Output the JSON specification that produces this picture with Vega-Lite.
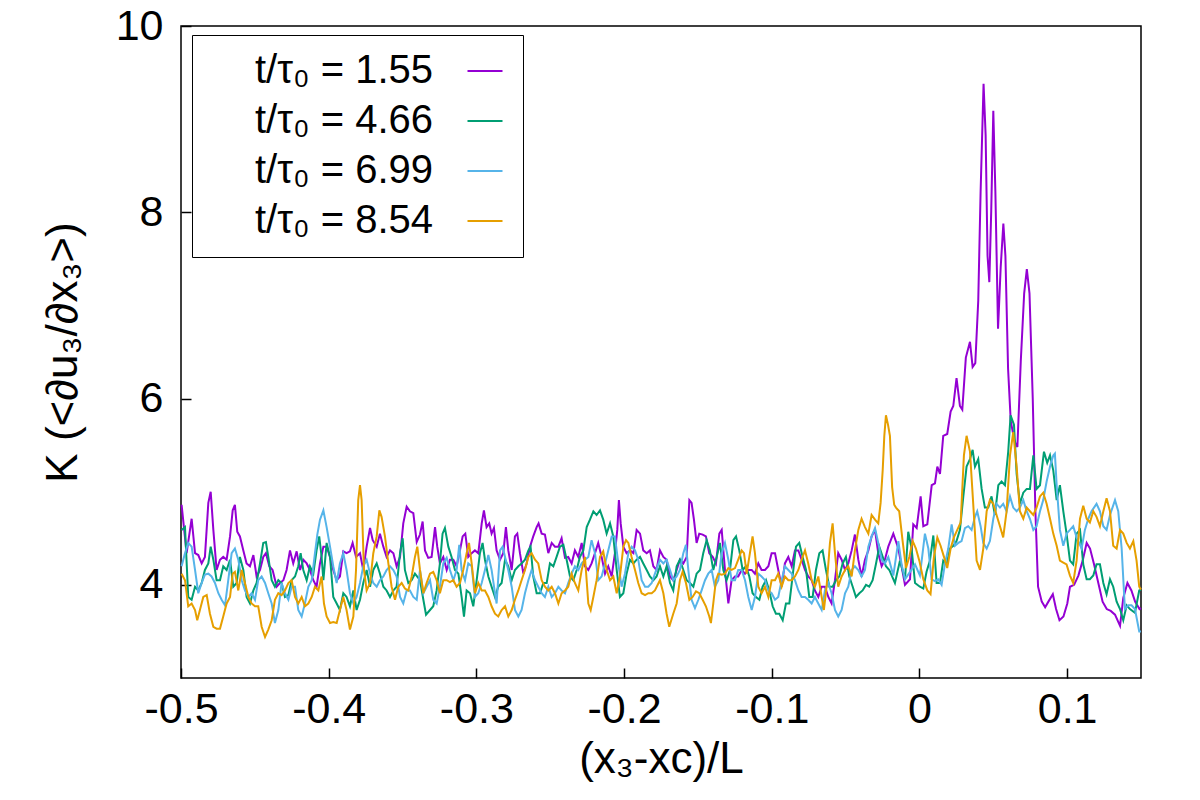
{
"$schema":"https://vega.github.io/schema/vega-lite/v6.json",
"width":960,"height":652,
"autosize":{"type":"none"},
"padding":{"left":181,"top":26,"right":59,"bottom":122},
"background":"white",
"config":{
"view":{"stroke":"black","strokeWidth":1.5},
"font":"Liberation Sans",
"axis":{"domain":false,"grid":false,"labelFont":"Liberation Sans","titleFont":"Liberation Sans","labelColor":"black","titleColor":"black","tickColor":"black","tickWidth":1.5,"labelFontSize":43,"titleFontSize":44,"titleFontWeight":"normal","labelFlush":false}
},
"datasets":{
"a":[
{"x":-0.4996,"y":4.86},{"x":-0.4962,"y":4.34},{"x":-0.4928,"y":4.71},{"x":-0.4905,"y":4.34},{"x":-0.4883,"y":4.32},{"x":-0.486,"y":4.23},{"x":-0.4838,"y":4.3},{"x":-0.4815,"y":4.88},{"x":-0.4799,"y":5.0},{"x":-0.4781,"y":4.59},{"x":-0.4759,"y":4.16},{"x":-0.4736,"y":4.27},{"x":-0.4714,"y":4.3},{"x":-0.4691,"y":4.27},{"x":-0.4668,"y":4.52},{"x":-0.465,"y":4.8},{"x":-0.4635,"y":4.86},{"x":-0.4619,"y":4.57},{"x":-0.4601,"y":4.52},{"x":-0.4578,"y":4.37},{"x":-0.4556,"y":4.23},{"x":-0.4533,"y":4.2},{"x":-0.451,"y":4.32},{"x":-0.4488,"y":4.09},{"x":-0.4465,"y":4.16},{"x":-0.4443,"y":4.3},{"x":-0.4425,"y":4.34},{"x":-0.4402,"y":4.2},{"x":-0.438,"y":4.16},{"x":-0.4352,"y":3.98},{"x":-0.433,"y":4.02},{"x":-0.4307,"y":4.05},{"x":-0.4285,"y":4.16},{"x":-0.4262,"y":4.37},{"x":-0.424,"y":4.23},{"x":-0.4217,"y":4.36},{"x":-0.4194,"y":4.16},{"x":-0.4172,"y":4.27},{"x":-0.4149,"y":4.23},{"x":-0.4127,"y":4.16},{"x":-0.4104,"y":4.05},{"x":-0.4082,"y":3.98},{"x":-0.4059,"y":4.23},{"x":-0.4036,"y":4.41},{"x":-0.4014,"y":4.41},{"x":-0.3991,"y":4.3},{"x":-0.3969,"y":4.16},{"x":-0.3946,"y":4.05},{"x":-0.3924,"y":4.09},{"x":-0.3901,"y":4.36},{"x":-0.3879,"y":4.34},{"x":-0.3856,"y":4.36},{"x":-0.3838,"y":4.45},{"x":-0.3815,"y":4.3},{"x":-0.3788,"y":4.34},{"x":-0.3766,"y":4.16},{"x":-0.3743,"y":4.41},{"x":-0.372,"y":4.61},{"x":-0.3702,"y":4.48},{"x":-0.3675,"y":4.41},{"x":-0.3653,"y":4.55},{"x":-0.363,"y":4.41},{"x":-0.3608,"y":4.3},{"x":-0.3585,"y":4.37},{"x":-0.3562,"y":4.34},{"x":-0.354,"y":4.2},{"x":-0.3517,"y":4.3},{"x":-0.3495,"y":4.66},{"x":-0.3472,"y":4.84},{"x":-0.345,"y":4.79},{"x":-0.3427,"y":4.77},{"x":-0.3404,"y":4.46},
{"x":-0.3382,"y":4.54},{"x":-0.3364,"y":4.68},{"x":-0.3348,"y":4.37},{"x":-0.3326,"y":4.29},{"x":-0.3303,"y":4.3},{"x":-0.328,"y":4.62},{"x":-0.3265,"y":4.41},{"x":-0.3247,"y":4.23},{"x":-0.3224,"y":4.3},{"x":-0.3201,"y":4.16},{"x":-0.3179,"y":4.27},{"x":-0.3156,"y":4.27},{"x":-0.3134,"y":4.2},{"x":-0.3111,"y":4.37},{"x":-0.3093,"y":4.52},{"x":-0.3075,"y":4.55},{"x":-0.3055,"y":4.3},{"x":-0.3032,"y":4.34},{"x":-0.301,"y":4.37},{"x":-0.2987,"y":4.34},{"x":-0.2964,"y":4.66},{"x":-0.2949,"y":4.8},{"x":-0.2931,"y":4.62},{"x":-0.2913,"y":4.66},{"x":-0.2897,"y":4.55},{"x":-0.2881,"y":4.61},{"x":-0.2863,"y":4.37},{"x":-0.284,"y":4.27},{"x":-0.2818,"y":4.34},{"x":-0.28,"y":4.62},{"x":-0.2784,"y":4.37},{"x":-0.2761,"y":4.16},{"x":-0.2739,"y":4.52},{"x":-0.2723,"y":4.55},{"x":-0.2705,"y":4.34},{"x":-0.2682,"y":4.12},{"x":-0.266,"y":4.23},{"x":-0.2637,"y":4.41},{"x":-0.2615,"y":4.52},{"x":-0.2592,"y":4.62},{"x":-0.2579,"y":4.66},{"x":-0.2558,"y":4.55},{"x":-0.2536,"y":4.54},{"x":-0.2513,"y":4.34},{"x":-0.249,"y":4.45},{"x":-0.2468,"y":4.41},{"x":-0.2445,"y":4.41},{"x":-0.2423,"y":4.5},{"x":-0.24,"y":4.29},{"x":-0.2378,"y":4.3},{"x":-0.2355,"y":4.23},{"x":-0.2333,"y":4.37},{"x":-0.231,"y":4.3},{"x":-0.2287,"y":4.45},{"x":-0.2265,"y":4.2},{"x":-0.2242,"y":4.16},{"x":-0.222,"y":4.23},{"x":-0.2197,"y":4.34},{"x":-0.2175,"y":4.45},{"x":-0.2152,"y":4.3},{"x":-0.2129,"y":4.12},{"x":-0.2107,"y":4.2},{"x":-0.2084,"y":4.09},{"x":-0.2062,"y":4.34},{"x":-0.2046,"y":4.59},{"x":-0.2035,"y":4.91},{"x":-0.2023,"y":4.66},{"x":-0.2005,"y":4.41},{"x":-0.1983,"y":4.34},{"x":-0.196,"y":4.37},{"x":-0.1937,"y":4.34},{"x":-0.1915,"y":4.59},{"x":-0.1892,"y":4.55},{"x":-0.187,"y":4.37},{"x":-0.1847,"y":4.34},{"x":-0.1825,"y":4.37},{"x":-0.1802,"y":4.2},{"x":-0.178,"y":4.16},
{"x":-0.1757,"y":4.37},{"x":-0.1734,"y":4.3},{"x":-0.1712,"y":4.27},{"x":-0.1689,"y":4.09},{"x":-0.1667,"y":4.05},{"x":-0.1644,"y":4.16},{"x":-0.1622,"y":4.27},{"x":-0.1599,"y":4.23},{"x":-0.1576,"y":4.3},{"x":-0.1558,"y":4.91},{"x":-0.1543,"y":4.88},{"x":-0.1527,"y":4.7},{"x":-0.1509,"y":4.45},{"x":-0.1491,"y":4.55},{"x":-0.1468,"y":4.54},{"x":-0.1446,"y":4.52},{"x":-0.1423,"y":4.34},{"x":-0.14,"y":4.3},{"x":-0.1378,"y":4.23},{"x":-0.1355,"y":4.55},{"x":-0.1339,"y":4.59},{"x":-0.1317,"y":4.16},{"x":-0.1294,"y":3.8},{"x":-0.1272,"y":4.05},{"x":-0.1249,"y":4.09},{"x":-0.1227,"y":4.09},{"x":-0.1204,"y":4.16},{"x":-0.1181,"y":4.12},{"x":-0.1159,"y":4.16},{"x":-0.1136,"y":4.16},{"x":-0.1114,"y":4.12},{"x":-0.1091,"y":4.23},{"x":-0.1069,"y":4.16},{"x":-0.1046,"y":4.16},{"x":-0.1023,"y":4.2},{"x":-0.1001,"y":4.34},{"x":-0.0978,"y":4.34},{"x":-0.0956,"y":4.16},{"x":-0.0933,"y":3.98},{"x":-0.0911,"y":4.23},{"x":-0.0888,"y":4.3},{"x":-0.0865,"y":4.2},{"x":-0.0843,"y":4.37},{"x":-0.082,"y":4.37},{"x":-0.0798,"y":4.27},{"x":-0.0775,"y":4.16},{"x":-0.0753,"y":4.09},{"x":-0.073,"y":4.05},{"x":-0.0708,"y":3.94},{"x":-0.0685,"y":3.87},{"x":-0.0662,"y":3.98},{"x":-0.064,"y":3.98},{"x":-0.0617,"y":3.87},{"x":-0.0595,"y":3.8},{"x":-0.0572,"y":4.05},{"x":-0.055,"y":4.34},{"x":-0.0527,"y":4.27},{"x":-0.0504,"y":4.16},{"x":-0.0482,"y":4.23},{"x":-0.0459,"y":4.37},{"x":-0.0437,"y":4.54},{"x":-0.0414,"y":4.27},{"x":-0.0392,"y":4.09},{"x":-0.0369,"y":4.27},{"x":-0.0346,"y":4.37},{"x":-0.0324,"y":4.52},{"x":-0.0301,"y":4.59},{"x":-0.0279,"y":4.34},{"x":-0.0256,"y":4.2},{"x":-0.0234,"y":4.27},{"x":-0.0211,"y":4.41},
{"x":-0.0177,"y":4.55},{"x":-0.0143,"y":4.39},{"x":-0.0098,"y":4.0},{"x":-0.0064,"y":4.06},{"x":-0.0042,"y":4.65},{"x":-0.0019,"y":4.61},{"x":0.0008,"y":4.95},{"x":0.0026,"y":4.63},{"x":0.0053,"y":4.65},{"x":0.0083,"y":5.07},{"x":0.0105,"y":5.09},{"x":0.0121,"y":5.27},{"x":0.0139,"y":5.19},{"x":0.0161,"y":5.6},{"x":0.0188,"y":5.62},{"x":0.0211,"y":5.86},{"x":0.0229,"y":5.92},{"x":0.0251,"y":6.22},{"x":0.0274,"y":5.92},{"x":0.029,"y":5.88},{"x":0.0314,"y":6.44},{"x":0.0342,"y":6.61},{"x":0.036,"y":6.34},{"x":0.0378,"y":6.38},{"x":0.0398,"y":7.05},{"x":0.0414,"y":8.22},{"x":0.0434,"y":9.38},{"x":0.0448,"y":8.83},{"x":0.0461,"y":7.53},{"x":0.0473,"y":7.25},{"x":0.0486,"y":8.02},{"x":0.05,"y":9.09},{"x":0.0514,"y":8.22},{"x":0.0532,"y":6.75},{"x":0.055,"y":7.41},{"x":0.0568,"y":7.88},{"x":0.0582,"y":7.53},{"x":0.06,"y":6.32},{"x":0.0618,"y":5.76},{"x":0.0641,"y":5.56},{"x":0.0663,"y":5.48},{"x":0.0686,"y":6.4},{"x":0.0709,"y":7.13},{"x":0.0727,"y":7.39},{"x":0.0745,"y":7.13},{"x":0.0767,"y":6.0},{"x":0.0785,"y":4.79},{"x":0.0803,"y":3.98},{"x":0.0828,"y":3.82},{"x":0.0851,"y":3.76},{"x":0.0873,"y":3.82},{"x":0.0903,"y":3.9},{"x":0.0925,"y":3.74},{"x":0.0948,"y":3.62},{"x":0.0975,"y":3.66},{"x":0.1001,"y":3.8},{"x":0.1019,"y":3.98},{"x":0.1047,"y":4.0},{"x":0.1076,"y":4.1},{"x":0.1105,"y":4.26},{"x":0.1132,"y":4.45},{"x":0.1155,"y":4.39},{"x":0.1182,"y":4.22},{"x":0.1211,"y":4.02},{"x":0.124,"y":3.82},{"x":0.1268,"y":3.74},{"x":0.1295,"y":3.72},{"x":0.1324,"y":3.68},{"x":0.1358,"y":3.56},{"x":0.138,"y":3.86},{"x":0.1408,"y":4.02},{"x":0.1435,"y":3.94},{"x":0.146,"y":3.82},{"x":0.149,"y":3.74},{"x":0.15,"y":3.75}
],
"b":[
{"x":-0.4996,"y":4.59},{"x":-0.4973,"y":4.62},{"x":-0.4951,"y":3.87},{"x":-0.4928,"y":3.84},{"x":-0.4905,"y":3.98},{"x":-0.4883,"y":3.94},{"x":-0.486,"y":4.02},{"x":-0.4838,"y":4.16},{"x":-0.4815,"y":4.23},{"x":-0.4799,"y":4.41},{"x":-0.4781,"y":4.27},{"x":-0.4759,"y":4.05},{"x":-0.4736,"y":4.05},{"x":-0.4714,"y":4.2},{"x":-0.4691,"y":4.16},{"x":-0.4668,"y":4.27},{"x":-0.4646,"y":3.98},{"x":-0.4623,"y":4.02},{"x":-0.4601,"y":4.3},{"x":-0.4578,"y":4.16},{"x":-0.4556,"y":3.87},{"x":-0.4533,"y":3.8},{"x":-0.451,"y":3.94},{"x":-0.4488,"y":4.02},{"x":-0.4465,"y":4.23},{"x":-0.4443,"y":4.45},{"x":-0.4425,"y":4.46},{"x":-0.4409,"y":4.3},{"x":-0.4386,"y":4.05},{"x":-0.4364,"y":3.98},{"x":-0.4341,"y":4.05},{"x":-0.4319,"y":4.02},{"x":-0.4296,"y":3.87},{"x":-0.4273,"y":3.89},{"x":-0.4251,"y":4.05},{"x":-0.4228,"y":4.09},{"x":-0.4206,"y":4.2},{"x":-0.419,"y":4.34},{"x":-0.4172,"y":4.16},{"x":-0.4149,"y":4.05},{"x":-0.4127,"y":4.2},{"x":-0.4104,"y":4.12},{"x":-0.4082,"y":4.37},{"x":-0.4064,"y":4.52},{"x":-0.4048,"y":4.3},{"x":-0.4036,"y":4.05},{"x":-0.4014,"y":4.45},{"x":-0.3991,"y":4.3},{"x":-0.3969,"y":3.87},{"x":-0.3946,"y":3.8},{"x":-0.3924,"y":3.73},{"x":-0.3901,"y":3.91},{"x":-0.3879,"y":3.87},{"x":-0.3856,"y":3.77},{"x":-0.3833,"y":3.94},{"x":-0.3811,"y":3.73},{"x":-0.3788,"y":3.84},{"x":-0.3766,"y":4.02},{"x":-0.3743,"y":4.16},{"x":-0.372,"y":3.98},{"x":-0.3698,"y":4.16},{"x":-0.3675,"y":4.23},{"x":-0.3653,"y":4.12},{"x":-0.363,"y":3.98},{"x":-0.3608,"y":3.94},{"x":-0.3585,"y":3.87},{"x":-0.3562,"y":3.94},{"x":-0.354,"y":3.98},{"x":-0.3517,"y":4.34},{"x":-0.3499,"y":4.5},{"x":-0.3484,"y":4.16},{"x":-0.3461,"y":4.02},{"x":-0.3438,"y":4.05},{"x":-0.3416,"y":4.12},
{"x":-0.3382,"y":4.05},{"x":-0.3359,"y":3.84},{"x":-0.3341,"y":3.68},{"x":-0.3314,"y":3.73},{"x":-0.3292,"y":3.77},{"x":-0.3269,"y":3.94},{"x":-0.3247,"y":4.23},{"x":-0.3229,"y":4.55},{"x":-0.3213,"y":4.61},{"x":-0.319,"y":4.41},{"x":-0.3168,"y":4.3},{"x":-0.3145,"y":4.16},{"x":-0.3122,"y":4.12},{"x":-0.31,"y":3.87},{"x":-0.3084,"y":3.66},{"x":-0.3066,"y":3.94},{"x":-0.3043,"y":3.91},{"x":-0.3021,"y":3.77},{"x":-0.2998,"y":4.05},{"x":-0.2976,"y":4.34},{"x":-0.2958,"y":4.45},{"x":-0.2942,"y":4.27},{"x":-0.2919,"y":4.09},{"x":-0.2897,"y":3.98},{"x":-0.2874,"y":3.87},{"x":-0.2852,"y":3.98},{"x":-0.2829,"y":4.02},{"x":-0.2806,"y":4.27},{"x":-0.2784,"y":4.2},{"x":-0.2761,"y":4.05},{"x":-0.2739,"y":4.16},{"x":-0.2716,"y":4.2},{"x":-0.2694,"y":4.23},{"x":-0.2671,"y":4.27},{"x":-0.2648,"y":4.37},{"x":-0.2633,"y":4.41},{"x":-0.2615,"y":4.09},{"x":-0.2592,"y":3.91},{"x":-0.2569,"y":3.91},{"x":-0.2547,"y":4.02},{"x":-0.2524,"y":4.02},{"x":-0.2502,"y":4.23},{"x":-0.2479,"y":4.2},{"x":-0.2457,"y":4.3},{"x":-0.2434,"y":4.41},{"x":-0.2411,"y":4.43},{"x":-0.2389,"y":4.27},{"x":-0.2366,"y":4.09},{"x":-0.2344,"y":4.05},{"x":-0.2321,"y":4.16},{"x":-0.2299,"y":4.3},{"x":-0.2276,"y":4.37},{"x":-0.2253,"y":4.62},{"x":-0.2231,"y":4.7},{"x":-0.2208,"y":4.79},{"x":-0.2186,"y":4.75},{"x":-0.2163,"y":4.8},{"x":-0.2141,"y":4.7},{"x":-0.2118,"y":4.55},{"x":-0.2095,"y":4.66},{"x":-0.2073,"y":4.52},{"x":-0.205,"y":4.16},{"x":-0.2028,"y":3.87},{"x":-0.2005,"y":3.91},{"x":-0.1983,"y":4.12},{"x":-0.196,"y":4.27},{"x":-0.1937,"y":4.23},{"x":-0.1915,"y":4.27},{"x":-0.1892,"y":4.3},{"x":-0.187,"y":4.23},{"x":-0.1847,"y":4.16},{"x":-0.1825,"y":4.09},{"x":-0.1802,"y":4.05},{"x":-0.178,"y":4.09},
{"x":-0.1757,"y":4.2},{"x":-0.1734,"y":4.09},{"x":-0.1712,"y":4.2},{"x":-0.1689,"y":4.02},{"x":-0.1667,"y":3.94},{"x":-0.1644,"y":4.2},{"x":-0.1622,"y":4.27},{"x":-0.1599,"y":4.16},{"x":-0.1576,"y":4.05},{"x":-0.1554,"y":4.02},{"x":-0.1531,"y":3.98},{"x":-0.1509,"y":4.12},{"x":-0.1486,"y":4.16},{"x":-0.1464,"y":4.34},{"x":-0.1441,"y":4.48},{"x":-0.1419,"y":4.37},{"x":-0.1396,"y":4.16},{"x":-0.1373,"y":4.3},{"x":-0.1351,"y":4.45},{"x":-0.1328,"y":4.16},{"x":-0.1306,"y":4.05},{"x":-0.1283,"y":4.16},{"x":-0.126,"y":4.48},{"x":-0.1242,"y":4.52},{"x":-0.122,"y":4.37},{"x":-0.1197,"y":4.16},{"x":-0.1175,"y":4.2},{"x":-0.1152,"y":4.09},{"x":-0.113,"y":3.91},{"x":-0.1107,"y":3.87},{"x":-0.1084,"y":3.84},{"x":-0.1062,"y":3.98},{"x":-0.1039,"y":4.05},{"x":-0.1017,"y":3.94},{"x":-0.0994,"y":3.77},{"x":-0.0972,"y":3.69},{"x":-0.0949,"y":3.69},{"x":-0.0926,"y":3.62},{"x":-0.0904,"y":3.8},{"x":-0.0881,"y":3.8},{"x":-0.0859,"y":4.09},{"x":-0.0836,"y":4.41},{"x":-0.0814,"y":4.45},{"x":-0.0791,"y":4.3},{"x":-0.0768,"y":4.16},{"x":-0.0746,"y":3.87},{"x":-0.0723,"y":3.87},{"x":-0.0701,"y":4.16},{"x":-0.0678,"y":4.34},{"x":-0.0656,"y":4.37},{"x":-0.0633,"y":4.16},{"x":-0.061,"y":3.98},{"x":-0.0588,"y":3.98},{"x":-0.0565,"y":4.05},{"x":-0.0543,"y":4.09},{"x":-0.052,"y":4.23},{"x":-0.0498,"y":4.3},{"x":-0.0475,"y":4.09},{"x":-0.0452,"y":3.98},{"x":-0.043,"y":3.87},{"x":-0.0407,"y":3.91},{"x":-0.0385,"y":3.94},{"x":-0.0362,"y":4.0},{"x":-0.034,"y":3.98},{"x":-0.0317,"y":4.05},{"x":-0.0294,"y":4.23},{"x":-0.0272,"y":4.41},{"x":-0.0249,"y":4.3},{"x":-0.0227,"y":4.2},{"x":-0.0204,"y":4.16},
{"x":-0.0166,"y":4.02},{"x":-0.0132,"y":4.26},{"x":-0.0098,"y":4.06},{"x":-0.0076,"y":4.57},{"x":-0.0053,"y":4.39},{"x":-0.003,"y":4.02},{"x":0.0003,"y":3.98},{"x":0.0026,"y":3.96},{"x":0.0048,"y":4.14},{"x":0.0071,"y":4.26},{"x":0.0094,"y":4.53},{"x":0.0116,"y":4.02},{"x":0.0139,"y":4.02},{"x":0.0161,"y":4.26},{"x":0.0184,"y":4.22},{"x":0.0206,"y":4.39},{"x":0.0229,"y":4.42},{"x":0.0251,"y":4.47},{"x":0.0274,"y":4.59},{"x":0.0297,"y":4.95},{"x":0.0319,"y":5.27},{"x":0.0342,"y":5.35},{"x":0.036,"y":5.45},{"x":0.0376,"y":5.27},{"x":0.0398,"y":5.35},{"x":0.0421,"y":5.03},{"x":0.0443,"y":4.83},{"x":0.0466,"y":4.83},{"x":0.0488,"y":4.95},{"x":0.0511,"y":4.75},{"x":0.0534,"y":5.07},{"x":0.0556,"y":5.11},{"x":0.0579,"y":5.07},{"x":0.0601,"y":5.43},{"x":0.0617,"y":5.82},{"x":0.064,"y":5.72},{"x":0.0658,"y":5.19},{"x":0.068,"y":4.87},{"x":0.0703,"y":4.99},{"x":0.0726,"y":5.03},{"x":0.0748,"y":5.03},{"x":0.0771,"y":5.39},{"x":0.0793,"y":5.03},{"x":0.0816,"y":5.07},{"x":0.0843,"y":5.43},{"x":0.0865,"y":5.31},{"x":0.0884,"y":5.39},{"x":0.0906,"y":5.23},{"x":0.0929,"y":4.91},{"x":0.0951,"y":5.07},{"x":0.0974,"y":4.79},{"x":0.0996,"y":4.55},{"x":0.1019,"y":4.26},{"x":0.1041,"y":4.22},{"x":0.1064,"y":4.55},{"x":0.1087,"y":4.59},{"x":0.1109,"y":4.22},{"x":0.1132,"y":4.06},{"x":0.1154,"y":4.06},{"x":0.1177,"y":4.1},{"x":0.1199,"y":4.22},{"x":0.1222,"y":4.22},{"x":0.1245,"y":4.02},{"x":0.1267,"y":3.9},{"x":0.129,"y":4.06},{"x":0.1312,"y":3.98},{"x":0.1335,"y":3.82},{"x":0.1358,"y":3.74},{"x":0.138,"y":3.62},{"x":0.1403,"y":3.78},{"x":0.1425,"y":3.74},{"x":0.1459,"y":3.7},{"x":0.1488,"y":3.94},{"x":0.15,"y":3.95}
],
"c":[
{"x":-0.4996,"y":4.2},{"x":-0.4973,"y":4.34},{"x":-0.4951,"y":4.45},{"x":-0.4928,"y":4.41},{"x":-0.4905,"y":4.16},{"x":-0.4883,"y":3.91},{"x":-0.486,"y":4.02},{"x":-0.4838,"y":4.11},{"x":-0.4815,"y":4.12},{"x":-0.4793,"y":4.09},{"x":-0.477,"y":4.02},{"x":-0.4747,"y":3.91},{"x":-0.4725,"y":3.84},{"x":-0.4702,"y":3.78},{"x":-0.468,"y":4.05},{"x":-0.4657,"y":4.34},{"x":-0.4635,"y":4.39},{"x":-0.4612,"y":4.27},{"x":-0.4589,"y":4.05},{"x":-0.4567,"y":3.94},{"x":-0.4544,"y":3.87},{"x":-0.4522,"y":3.91},{"x":-0.4499,"y":3.84},{"x":-0.4477,"y":4.05},{"x":-0.4454,"y":4.09},{"x":-0.4431,"y":4.02},{"x":-0.4409,"y":3.91},{"x":-0.4386,"y":3.8},{"x":-0.4364,"y":3.59},{"x":-0.4341,"y":3.73},{"x":-0.4319,"y":4.02},{"x":-0.4296,"y":3.91},{"x":-0.4273,"y":3.84},{"x":-0.4251,"y":3.98},{"x":-0.4228,"y":3.98},{"x":-0.4206,"y":3.73},{"x":-0.4183,"y":3.66},{"x":-0.4161,"y":3.8},{"x":-0.4138,"y":3.98},{"x":-0.4115,"y":4.05},{"x":-0.4093,"y":4.34},{"x":-0.4077,"y":4.54},{"x":-0.4059,"y":4.7},{"x":-0.4036,"y":4.8},{"x":-0.4014,"y":4.62},{"x":-0.3991,"y":4.41},{"x":-0.3969,"y":4.2},{"x":-0.3946,"y":4.02},{"x":-0.3924,"y":4.23},{"x":-0.3901,"y":4.34},{"x":-0.3879,"y":4.16},{"x":-0.3856,"y":3.91},{"x":-0.3833,"y":3.8},{"x":-0.3811,"y":3.87},{"x":-0.3788,"y":4.02},{"x":-0.3766,"y":4.2},{"x":-0.3743,"y":4.27},{"x":-0.372,"y":4.12},{"x":-0.3698,"y":4.02},{"x":-0.3675,"y":3.98},{"x":-0.3653,"y":4.05},{"x":-0.363,"y":4.09},{"x":-0.3608,"y":4.16},{"x":-0.3585,"y":4.2},{"x":-0.3562,"y":4.16},{"x":-0.354,"y":4.09},{"x":-0.3517,"y":3.87},{"x":-0.3495,"y":3.8},{"x":-0.3472,"y":3.94},{"x":-0.345,"y":3.94},{"x":-0.3427,"y":3.87},{"x":-0.3404,"y":3.84},
{"x":-0.3382,"y":4.16},{"x":-0.3359,"y":3.91},{"x":-0.3337,"y":3.98},{"x":-0.3314,"y":4.05},{"x":-0.3292,"y":3.84},{"x":-0.3269,"y":3.8},{"x":-0.3247,"y":3.98},{"x":-0.3224,"y":4.23},{"x":-0.3201,"y":4.29},{"x":-0.3179,"y":4.16},{"x":-0.3156,"y":4.05},{"x":-0.3134,"y":4.16},{"x":-0.3116,"y":4.43},{"x":-0.31,"y":4.16},{"x":-0.3077,"y":4.05},{"x":-0.3055,"y":4.23},{"x":-0.3032,"y":4.2},{"x":-0.301,"y":3.87},{"x":-0.2987,"y":3.91},{"x":-0.2964,"y":4.02},{"x":-0.2942,"y":4.16},{"x":-0.2919,"y":4.32},{"x":-0.2897,"y":4.16},{"x":-0.2874,"y":3.91},{"x":-0.2863,"y":3.8},{"x":-0.284,"y":4.37},{"x":-0.2822,"y":4.41},{"x":-0.2806,"y":4.3},{"x":-0.2784,"y":4.16},{"x":-0.2761,"y":3.98},{"x":-0.2739,"y":3.73},{"x":-0.2716,"y":3.66},{"x":-0.2694,"y":3.73},{"x":-0.2671,"y":3.91},{"x":-0.2648,"y":4.05},{"x":-0.2626,"y":4.16},{"x":-0.2603,"y":4.05},{"x":-0.2581,"y":3.98},{"x":-0.2558,"y":3.91},{"x":-0.2536,"y":3.87},{"x":-0.2513,"y":3.98},{"x":-0.249,"y":3.87},{"x":-0.2468,"y":3.91},{"x":-0.2445,"y":3.98},{"x":-0.2423,"y":3.94},{"x":-0.24,"y":3.91},{"x":-0.2378,"y":4.02},{"x":-0.2355,"y":4.12},{"x":-0.2333,"y":4.2},{"x":-0.231,"y":4.16},{"x":-0.2287,"y":4.23},{"x":-0.2265,"y":4.27},{"x":-0.2242,"y":4.3},{"x":-0.222,"y":4.48},{"x":-0.2197,"y":4.34},{"x":-0.2175,"y":4.05},{"x":-0.2152,"y":4.09},{"x":-0.2129,"y":4.23},{"x":-0.2107,"y":4.37},{"x":-0.2084,"y":4.52},{"x":-0.2062,"y":4.52},{"x":-0.2039,"y":4.23},{"x":-0.2017,"y":3.98},{"x":-0.1994,"y":4.12},{"x":-0.1971,"y":4.34},{"x":-0.1949,"y":4.41},{"x":-0.1926,"y":4.37},{"x":-0.1904,"y":4.27},{"x":-0.1881,"y":4.05},{"x":-0.1858,"y":3.98},{"x":-0.1836,"y":3.98},{"x":-0.1813,"y":4.02},{"x":-0.1791,"y":4.12},
{"x":-0.1757,"y":4.27},{"x":-0.1734,"y":4.23},{"x":-0.1712,"y":4.27},{"x":-0.1689,"y":4.16},{"x":-0.1667,"y":4.05},{"x":-0.1644,"y":4.09},{"x":-0.1622,"y":4.16},{"x":-0.1599,"y":4.34},{"x":-0.1581,"y":4.43},{"x":-0.1565,"y":4.16},{"x":-0.1543,"y":3.84},{"x":-0.152,"y":3.75},{"x":-0.1497,"y":3.84},{"x":-0.1475,"y":3.94},{"x":-0.1452,"y":4.05},{"x":-0.143,"y":4.12},{"x":-0.1407,"y":4.16},{"x":-0.1385,"y":3.98},{"x":-0.1362,"y":4.05},{"x":-0.1339,"y":4.34},{"x":-0.1317,"y":4.45},{"x":-0.1294,"y":4.27},{"x":-0.1272,"y":4.05},{"x":-0.1249,"y":4.05},{"x":-0.1227,"y":4.16},{"x":-0.1204,"y":4.16},{"x":-0.1181,"y":4.05},{"x":-0.1159,"y":3.87},{"x":-0.1136,"y":3.73},{"x":-0.1114,"y":3.87},{"x":-0.1091,"y":4.12},{"x":-0.1069,"y":4.09},{"x":-0.1046,"y":4.05},{"x":-0.1023,"y":3.94},{"x":-0.1001,"y":3.91},{"x":-0.0978,"y":3.84},{"x":-0.0956,"y":3.87},{"x":-0.0933,"y":4.05},{"x":-0.0911,"y":4.2},{"x":-0.0888,"y":4.16},{"x":-0.0865,"y":4.12},{"x":-0.0843,"y":4.05},{"x":-0.082,"y":3.94},{"x":-0.0798,"y":3.87},{"x":-0.0775,"y":3.87},{"x":-0.0753,"y":3.84},{"x":-0.073,"y":3.8},{"x":-0.0708,"y":3.87},{"x":-0.0685,"y":3.8},{"x":-0.0662,"y":3.73},{"x":-0.064,"y":3.94},{"x":-0.0617,"y":4.02},{"x":-0.0595,"y":3.91},{"x":-0.0572,"y":3.73},{"x":-0.055,"y":3.66},{"x":-0.0527,"y":3.73},{"x":-0.0504,"y":3.91},{"x":-0.0482,"y":3.98},{"x":-0.0459,"y":4.16},{"x":-0.0437,"y":4.2},{"x":-0.0414,"y":4.16},{"x":-0.0392,"y":4.09},{"x":-0.0369,"y":4.16},{"x":-0.0346,"y":4.41},{"x":-0.0324,"y":4.52},{"x":-0.0301,"y":4.61},{"x":-0.0279,"y":4.45},{"x":-0.0256,"y":4.27},{"x":-0.0234,"y":4.23},{"x":-0.0211,"y":4.3},
{"x":-0.0177,"y":4.1},{"x":-0.0143,"y":4.47},{"x":-0.0121,"y":4.22},{"x":-0.0098,"y":4.06},{"x":-0.0064,"y":4.14},{"x":-0.003,"y":4.22},{"x":0.0003,"y":4.1},{"x":0.0037,"y":4.55},{"x":0.006,"y":4.39},{"x":0.0082,"y":4.06},{"x":0.0105,"y":4.04},{"x":0.0127,"y":4.06},{"x":0.015,"y":4.0},{"x":0.0172,"y":4.22},{"x":0.0195,"y":4.39},{"x":0.0218,"y":4.65},{"x":0.024,"y":4.42},{"x":0.0263,"y":4.45},{"x":0.0285,"y":4.47},{"x":0.0308,"y":4.61},{"x":0.033,"y":4.63},{"x":0.0353,"y":4.59},{"x":0.0376,"y":4.73},{"x":0.0391,"y":4.79},{"x":0.0414,"y":4.63},{"x":0.0432,"y":4.45},{"x":0.0455,"y":4.39},{"x":0.0477,"y":4.47},{"x":0.05,"y":4.71},{"x":0.0522,"y":4.87},{"x":0.0545,"y":4.83},{"x":0.0567,"y":4.87},{"x":0.059,"y":4.79},{"x":0.0613,"y":4.95},{"x":0.0635,"y":4.83},{"x":0.0658,"y":4.79},{"x":0.068,"y":4.83},{"x":0.0703,"y":4.91},{"x":0.0726,"y":4.79},{"x":0.0748,"y":4.71},{"x":0.0771,"y":4.59},{"x":0.0793,"y":4.63},{"x":0.0816,"y":4.79},{"x":0.0838,"y":4.91},{"x":0.0861,"y":5.11},{"x":0.0884,"y":5.27},{"x":0.0906,"y":5.39},{"x":0.0917,"y":5.41},{"x":0.0929,"y":5.07},{"x":0.0951,"y":4.59},{"x":0.0974,"y":4.42},{"x":0.0996,"y":4.55},{"x":0.1019,"y":4.59},{"x":0.1041,"y":4.63},{"x":0.1064,"y":4.51},{"x":0.1098,"y":4.39},{"x":0.112,"y":4.59},{"x":0.1143,"y":4.71},{"x":0.1165,"y":4.79},{"x":0.1199,"y":4.87},{"x":0.1222,"y":4.79},{"x":0.1245,"y":4.63},{"x":0.1267,"y":4.59},{"x":0.129,"y":4.75},{"x":0.1324,"y":4.91},{"x":0.1346,"y":4.79},{"x":0.1369,"y":4.39},{"x":0.1391,"y":3.74},{"x":0.1414,"y":3.78},{"x":0.1436,"y":3.78},{"x":0.1459,"y":3.74},{"x":0.1488,"y":3.5},{"x":0.15,"y":3.5}
],
"d":[
{"x":-0.4996,"y":4.12},{"x":-0.4973,"y":4.05},{"x":-0.4951,"y":3.77},{"x":-0.4928,"y":3.8},{"x":-0.4905,"y":3.73},{"x":-0.489,"y":3.62},{"x":-0.4872,"y":3.73},{"x":-0.4849,"y":3.87},{"x":-0.4826,"y":3.89},{"x":-0.4804,"y":3.69},{"x":-0.4781,"y":3.55},{"x":-0.4759,"y":3.53},{"x":-0.4736,"y":3.53},{"x":-0.4714,"y":3.66},{"x":-0.4691,"y":3.8},{"x":-0.4668,"y":3.87},{"x":-0.465,"y":4.12},{"x":-0.4635,"y":4.14},{"x":-0.4612,"y":3.94},{"x":-0.4589,"y":4.16},{"x":-0.4567,"y":4.02},{"x":-0.4544,"y":3.87},{"x":-0.4522,"y":3.8},{"x":-0.4499,"y":3.77},{"x":-0.4477,"y":3.77},{"x":-0.4454,"y":3.55},{"x":-0.4431,"y":3.44},{"x":-0.4409,"y":3.52},{"x":-0.4386,"y":3.62},{"x":-0.4364,"y":3.84},{"x":-0.4341,"y":3.91},{"x":-0.4319,"y":3.89},{"x":-0.4296,"y":3.94},{"x":-0.4273,"y":4.02},{"x":-0.4251,"y":4.05},{"x":-0.4228,"y":3.87},{"x":-0.4206,"y":3.8},{"x":-0.4183,"y":3.87},{"x":-0.4161,"y":3.77},{"x":-0.4138,"y":3.8},{"x":-0.4115,"y":3.87},{"x":-0.4093,"y":3.98},{"x":-0.407,"y":3.94},{"x":-0.4048,"y":4.09},{"x":-0.4032,"y":3.8},{"x":-0.4014,"y":3.66},{"x":-0.3991,"y":3.59},{"x":-0.3969,"y":3.6},{"x":-0.3946,"y":3.59},{"x":-0.3924,"y":3.73},{"x":-0.3901,"y":3.87},{"x":-0.3879,"y":3.73},{"x":-0.3856,"y":3.52},{"x":-0.3833,"y":3.66},{"x":-0.3815,"y":4.16},{"x":-0.38,"y":4.91},{"x":-0.3788,"y":5.07},{"x":-0.3777,"y":4.91},{"x":-0.3761,"y":4.16},{"x":-0.3743,"y":3.94},{"x":-0.372,"y":4.02},{"x":-0.3698,"y":4.34},{"x":-0.3675,"y":4.52},{"x":-0.3657,"y":4.8},{"x":-0.3642,"y":4.73},{"x":-0.3619,"y":4.52},{"x":-0.3596,"y":4.23},{"x":-0.3574,"y":3.98},{"x":-0.3551,"y":3.84},{"x":-0.3529,"y":3.98},{"x":-0.3506,"y":4.02},{"x":-0.3484,"y":3.96},{"x":-0.3461,"y":3.94},{"x":-0.3438,"y":4.09},{"x":-0.3416,"y":4.3},{"x":-0.34,"y":4.41},
{"x":-0.3382,"y":4.16},{"x":-0.3359,"y":3.91},{"x":-0.3337,"y":4.02},{"x":-0.3314,"y":4.12},{"x":-0.3292,"y":4.14},{"x":-0.3269,"y":4.05},{"x":-0.3247,"y":3.91},{"x":-0.3224,"y":4.05},{"x":-0.3201,"y":4.05},{"x":-0.3179,"y":4.03},{"x":-0.3156,"y":4.05},{"x":-0.3134,"y":3.98},{"x":-0.3111,"y":4.02},{"x":-0.3089,"y":4.16},{"x":-0.3066,"y":4.34},{"x":-0.305,"y":4.45},{"x":-0.3032,"y":4.23},{"x":-0.301,"y":3.91},{"x":-0.2987,"y":4.02},{"x":-0.2964,"y":3.94},{"x":-0.2942,"y":3.94},{"x":-0.2919,"y":3.87},{"x":-0.2897,"y":3.77},{"x":-0.2874,"y":3.69},{"x":-0.2852,"y":3.66},{"x":-0.2829,"y":3.73},{"x":-0.2806,"y":3.77},{"x":-0.2784,"y":3.66},{"x":-0.2761,"y":3.73},{"x":-0.2739,"y":3.84},{"x":-0.2716,"y":3.94},{"x":-0.2694,"y":4.05},{"x":-0.2671,"y":4.16},{"x":-0.2648,"y":4.3},{"x":-0.2626,"y":4.34},{"x":-0.2603,"y":4.27},{"x":-0.2581,"y":4.23},{"x":-0.2558,"y":4.05},{"x":-0.2536,"y":3.98},{"x":-0.2513,"y":3.94},{"x":-0.249,"y":3.98},{"x":-0.2468,"y":3.91},{"x":-0.2445,"y":3.8},{"x":-0.2423,"y":3.91},{"x":-0.24,"y":3.94},{"x":-0.2378,"y":3.98},{"x":-0.2355,"y":4.12},{"x":-0.2333,"y":4.02},{"x":-0.231,"y":3.94},{"x":-0.2287,"y":4.16},{"x":-0.2265,"y":4.3},{"x":-0.2242,"y":3.8},{"x":-0.2226,"y":3.73},{"x":-0.2208,"y":3.87},{"x":-0.2186,"y":4.05},{"x":-0.2163,"y":4.3},{"x":-0.2141,"y":4.36},{"x":-0.2118,"y":4.16},{"x":-0.2095,"y":4.05},{"x":-0.2073,"y":4.09},{"x":-0.205,"y":3.91},{"x":-0.2028,"y":4.09},{"x":-0.2005,"y":4.41},{"x":-0.1987,"y":4.48},{"x":-0.1971,"y":4.45},{"x":-0.1949,"y":4.3},{"x":-0.1926,"y":4.16},{"x":-0.1904,"y":4.02},{"x":-0.1881,"y":3.91},{"x":-0.1858,"y":3.89},{"x":-0.1836,"y":3.91},{"x":-0.1813,"y":3.91},{"x":-0.1791,"y":3.94},
{"x":-0.1757,"y":4.05},{"x":-0.1734,"y":3.91},{"x":-0.1712,"y":3.69},{"x":-0.1694,"y":3.55},{"x":-0.1667,"y":3.69},{"x":-0.1644,"y":3.8},{"x":-0.1622,"y":4.05},{"x":-0.1604,"y":4.14},{"x":-0.1581,"y":4.02},{"x":-0.1558,"y":3.84},{"x":-0.1536,"y":3.87},{"x":-0.1513,"y":3.93},{"x":-0.1491,"y":3.91},{"x":-0.1468,"y":3.84},{"x":-0.1446,"y":3.77},{"x":-0.1423,"y":3.66},{"x":-0.1412,"y":3.59},{"x":-0.1396,"y":3.8},{"x":-0.1378,"y":4.05},{"x":-0.1362,"y":4.12},{"x":-0.1339,"y":4.11},{"x":-0.1317,"y":4.12},{"x":-0.1294,"y":4.18},{"x":-0.1272,"y":4.16},{"x":-0.1249,"y":4.18},{"x":-0.1227,"y":4.27},{"x":-0.1204,"y":4.37},{"x":-0.1188,"y":4.34},{"x":-0.117,"y":4.12},{"x":-0.1148,"y":4.34},{"x":-0.113,"y":4.52},{"x":-0.1114,"y":4.34},{"x":-0.1091,"y":3.98},{"x":-0.1069,"y":3.91},{"x":-0.1046,"y":3.98},{"x":-0.1023,"y":3.87},{"x":-0.1001,"y":4.05},{"x":-0.0978,"y":4.05},{"x":-0.0956,"y":4.12},{"x":-0.0933,"y":3.98},{"x":-0.0911,"y":4.09},{"x":-0.0888,"y":4.05},{"x":-0.0865,"y":4.05},{"x":-0.0843,"y":4.09},{"x":-0.082,"y":4.16},{"x":-0.0798,"y":4.27},{"x":-0.0775,"y":4.37},{"x":-0.0753,"y":4.23},{"x":-0.073,"y":4.05},{"x":-0.0708,"y":3.98},{"x":-0.0685,"y":4.09},{"x":-0.0662,"y":3.87},{"x":-0.0647,"y":3.73},{"x":-0.0629,"y":3.98},{"x":-0.0606,"y":4.45},{"x":-0.0588,"y":4.66},{"x":-0.0572,"y":4.34},{"x":-0.055,"y":3.98},{"x":-0.0527,"y":4.09},{"x":-0.0504,"y":4.16},{"x":-0.0482,"y":4.2},{"x":-0.0459,"y":4.09},{"x":-0.0437,"y":4.37},{"x":-0.0414,"y":4.59},{"x":-0.0392,"y":4.71},{"x":-0.0369,"y":4.62},{"x":-0.0346,"y":4.55},{"x":-0.0324,"y":4.75},{"x":-0.0301,"y":4.7},{"x":-0.0279,"y":4.66},{"x":-0.0263,"y":4.88},{"x":-0.0249,"y":5.23},{"x":-0.0238,"y":5.6},{"x":-0.0227,"y":5.82},{"x":-0.0213,"y":5.72},{"x":-0.02,"y":5.6},{"x":-0.0185,"y":5.05},{"x":-0.0171,"y":4.86},
{"x":-0.0159,"y":4.83},{"x":-0.0137,"y":4.79},{"x":-0.0114,"y":4.47},{"x":-0.0091,"y":4.18},{"x":-0.0069,"y":4.3},{"x":-0.0046,"y":4.47},{"x":-0.0024,"y":4.39},{"x":-0.0001,"y":4.26},{"x":0.0026,"y":4.06},{"x":0.0053,"y":3.94},{"x":0.0075,"y":3.9},{"x":0.0098,"y":4.3},{"x":0.0121,"y":4.51},{"x":0.0143,"y":4.42},{"x":0.0166,"y":4.3},{"x":0.0188,"y":4.18},{"x":0.0211,"y":4.39},{"x":0.0233,"y":4.51},{"x":0.0256,"y":4.59},{"x":0.0279,"y":4.67},{"x":0.0301,"y":5.39},{"x":0.0319,"y":5.6},{"x":0.0342,"y":5.43},{"x":0.0364,"y":4.87},{"x":0.0387,"y":4.26},{"x":0.041,"y":4.16},{"x":0.0432,"y":4.39},{"x":0.0455,"y":4.79},{"x":0.0477,"y":4.91},{"x":0.05,"y":4.87},{"x":0.0522,"y":4.75},{"x":0.0545,"y":4.63},{"x":0.0567,"y":4.51},{"x":0.059,"y":4.79},{"x":0.0613,"y":5.39},{"x":0.0635,"y":5.64},{"x":0.0658,"y":5.27},{"x":0.068,"y":4.79},{"x":0.0703,"y":4.71},{"x":0.0726,"y":4.83},{"x":0.0748,"y":4.79},{"x":0.0771,"y":4.75},{"x":0.0793,"y":4.83},{"x":0.0816,"y":4.95},{"x":0.0838,"y":4.99},{"x":0.0861,"y":4.87},{"x":0.0884,"y":4.71},{"x":0.0906,"y":4.55},{"x":0.0929,"y":4.42},{"x":0.0951,"y":4.26},{"x":0.0974,"y":4.24},{"x":0.0996,"y":4.22},{"x":0.1019,"y":4.1},{"x":0.1041,"y":4.02},{"x":0.1064,"y":4.26},{"x":0.1087,"y":4.71},{"x":0.1109,"y":4.85},{"x":0.1132,"y":4.71},{"x":0.1154,"y":4.67},{"x":0.1177,"y":4.79},{"x":0.1199,"y":4.73},{"x":0.1222,"y":4.63},{"x":0.1245,"y":4.79},{"x":0.1267,"y":4.93},{"x":0.129,"y":4.79},{"x":0.1312,"y":4.42},{"x":0.1335,"y":4.39},{"x":0.1358,"y":4.59},{"x":0.138,"y":4.55},{"x":0.1403,"y":4.45},{"x":0.1425,"y":4.39},{"x":0.1448,"y":4.47},{"x":0.147,"y":4.26},{"x":0.1488,"y":3.98},{"x":0.15,"y":3.95}
]
},
"encoding":{
"x":{"field":"x","type":"quantitative","scale":{"domain":[-0.5,0.15],"nice":false,"zero":false},
"axis":{"title":"(x₃-xc)/L","values":[-0.5,-0.4,-0.3,-0.2,-0.1,0,0.1],"labelExpr":"replace(format(datum.value,'.1~f'),'−','-')","tickSize":-10,"labelPadding":20,"titlePadding":6}},
"y":{"field":"y","type":"quantitative","scale":{"domain":[3,10],"nice":false,"zero":false},
"axis":{"title":"K (<∂u₃/∂x₃>)","values":[4,6,8,10],"tickSize":-10,"labelPadding":28,"titlePadding":30}}
},
"layer":[
{"data":{"name":"a"},"mark":{"type":"line","strokeWidth":2},
"encoding":{"color":{"datum":"t/τ₀ = 1.55","type":"nominal",
"scale":{"domain":["t/τ₀ = 1.55","t/τ₀ = 4.66","t/τ₀ = 6.99","t/τ₀ = 8.54"],"range":["#9400D3","#009E73","#56B4E9","#E69F00"]},
"legend":{"title":null,"orient":"none","legendX":11,"legendY":9,"symbolType":"stroke","symbolSize":1225,"symbolStrokeWidth":2,"symbolOffset":257,"labelOffset":-250,"labelFontSize":40,"labelFont":"Liberation Sans","labelColor":"black","padding":16,"strokeColor":"black","rowPadding":10,"labelLimit":500}}}},
{"data":{"name":"b"},"mark":{"type":"line","strokeWidth":2},"encoding":{"color":{"datum":"t/τ₀ = 4.66","type":"nominal"}}},
{"data":{"name":"c"},"mark":{"type":"line","strokeWidth":2},"encoding":{"color":{"datum":"t/τ₀ = 6.99","type":"nominal"}}},
{"data":{"name":"d"},"mark":{"type":"line","strokeWidth":2},"encoding":{"color":{"datum":"t/τ₀ = 8.54","type":"nominal"}}}
]
}
